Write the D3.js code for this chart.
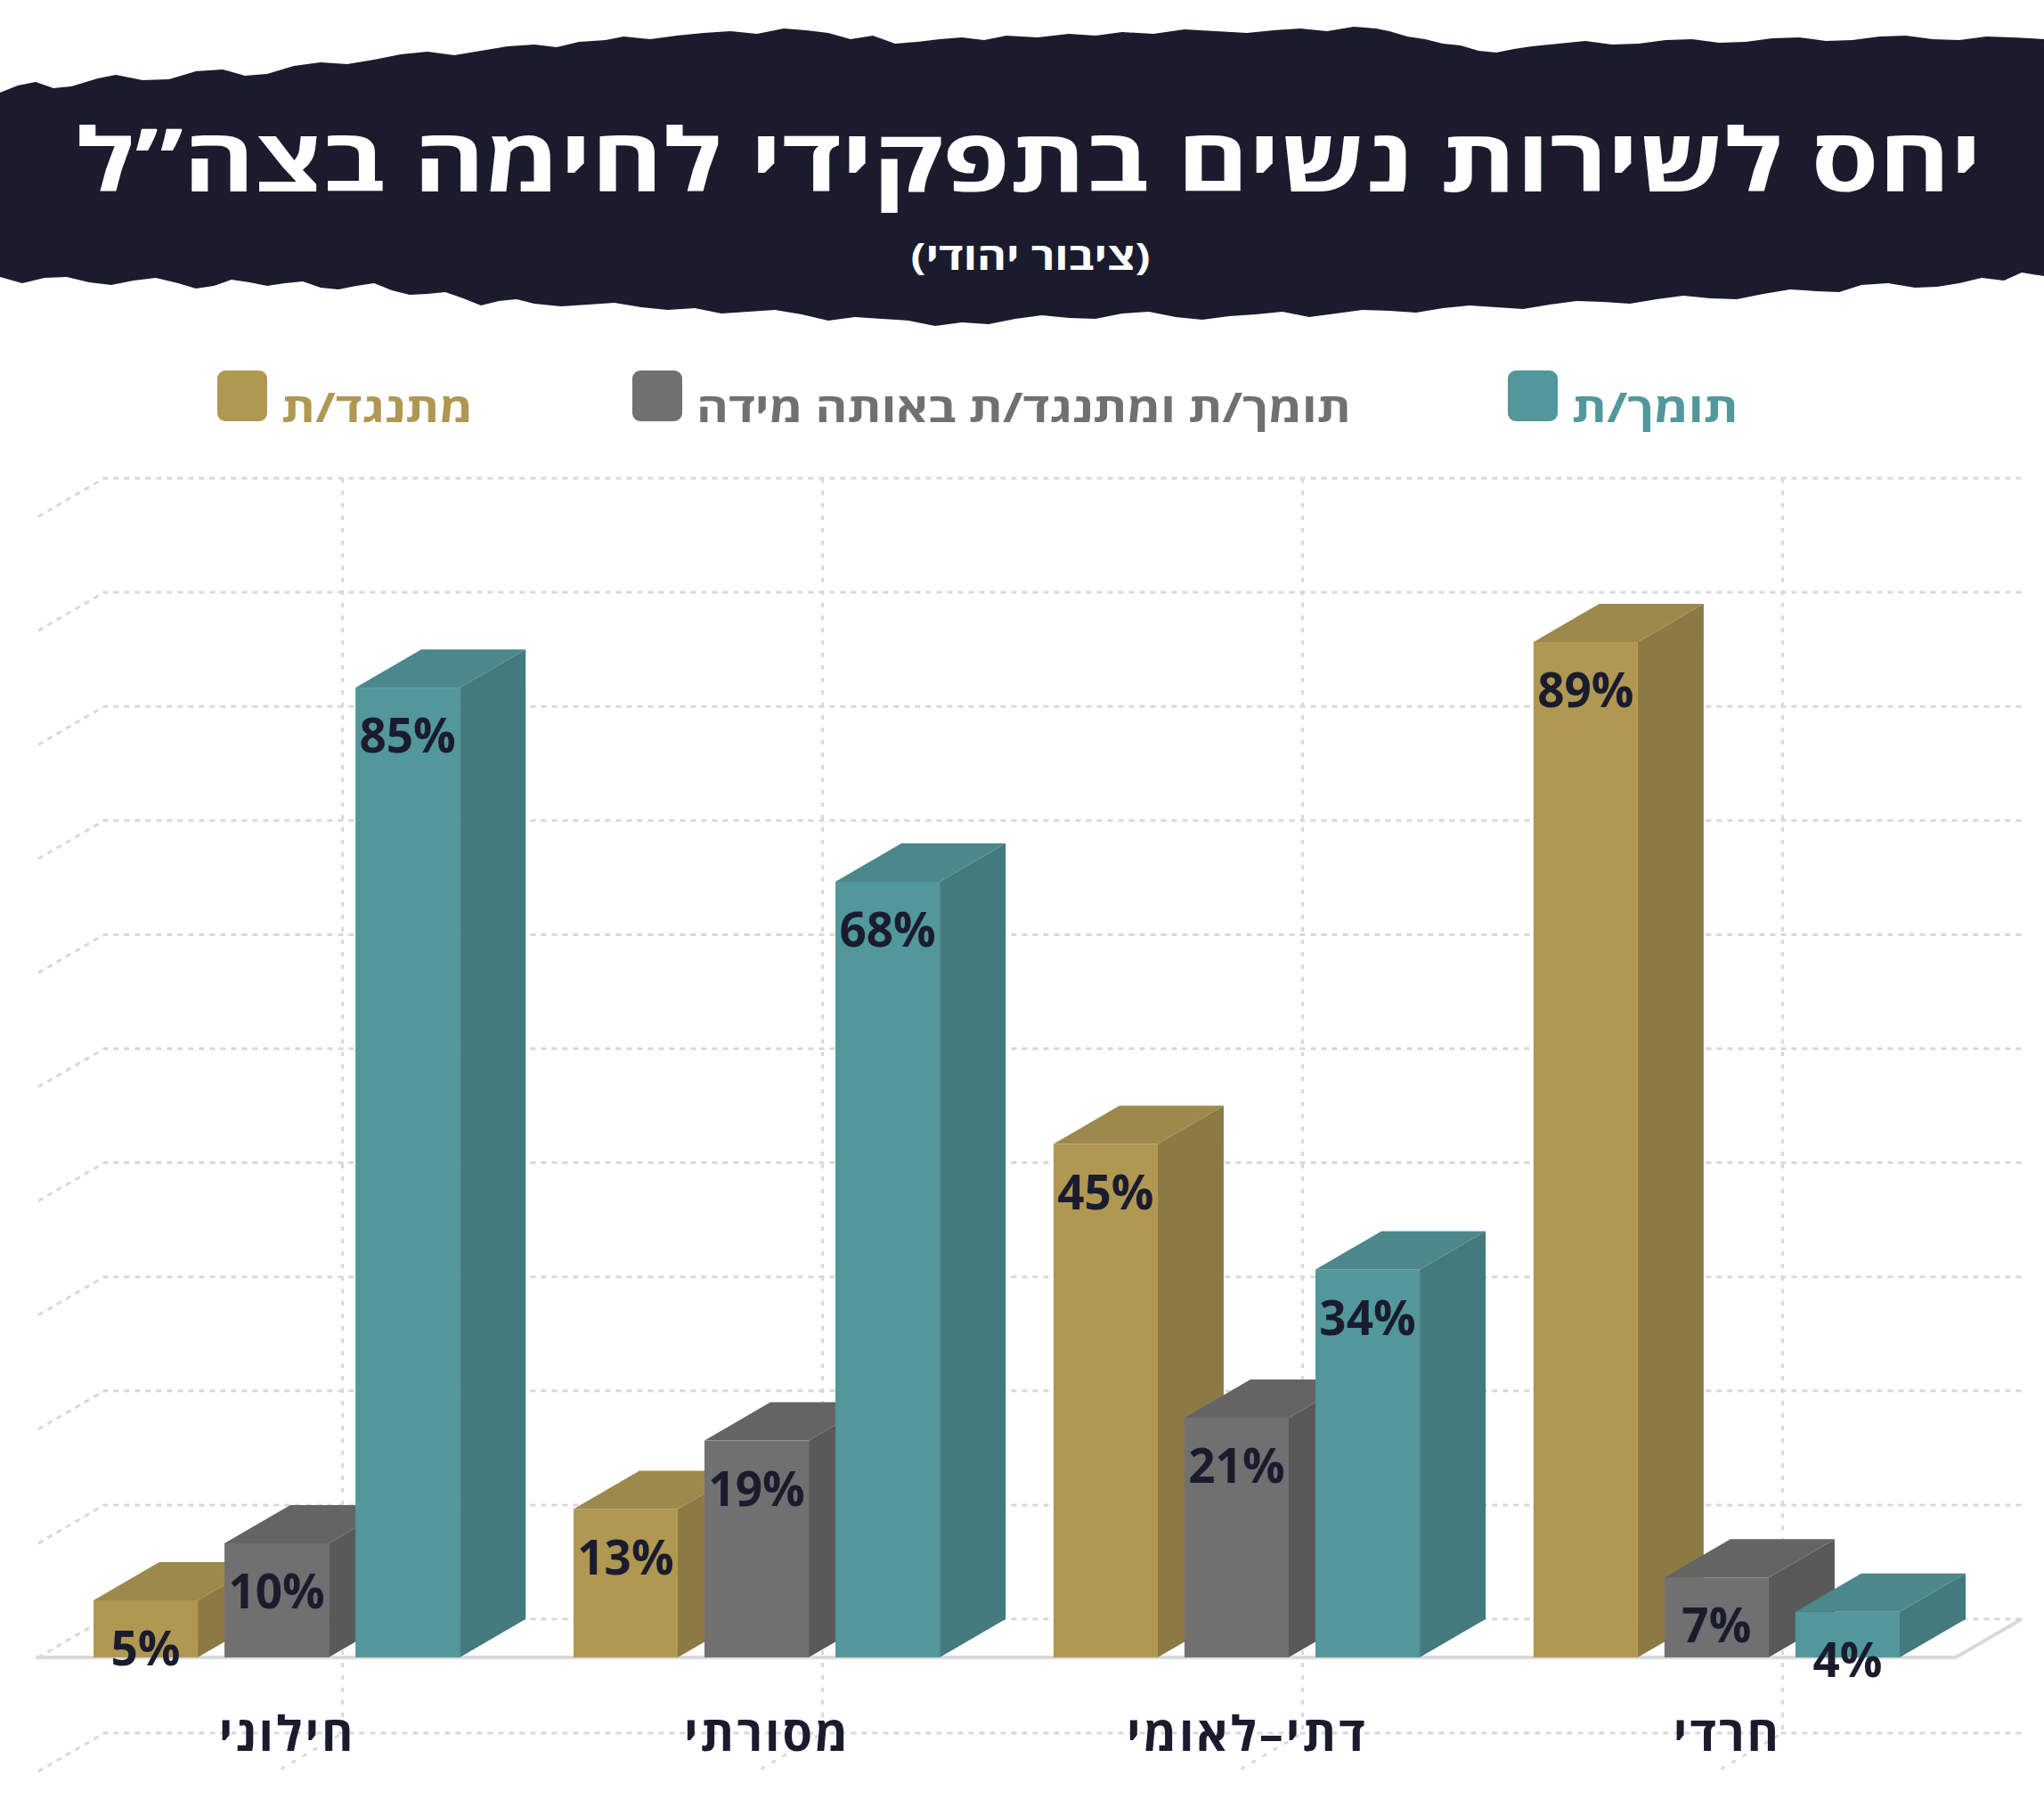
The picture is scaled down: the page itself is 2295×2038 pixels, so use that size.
<html><head>
<meta charset="utf-8">
<title>יחס לשירות נשים בתפקידי לחימה בצה"ל</title>
<style>
  body {
    margin: 0;
    background-color: #ffffff;
  }
  svg text {
    font-family: "Open Sans", "DejaVu Sans", sans-serif;
    font-weight: 700;
  }
  .grid {
    fill: none;
    stroke: #d9d9d9;
    stroke-width: 3px;
  }
</style>
<script src="https://d3js.org/d3.v7.min.js"></script>
</head>
<body>
<div id="chart"></div>
<script>
// data
const categories = ["חילוני", "מסורתי", "דתי–לאומי", "חרדי"];
const seriesNames = ["מתנגד/ת", "תומך/ת ומתנגד/ת באותה מידה", "תומך/ת"];
const opposeValues = [5, 13, 45, 89];
const equalValues = [10, 19, 21, 7];
const supportValues = [85, 68, 34, 4];
const gridTicks = [-10, 0, 10, 20, 30, 40, 50, 60, 70, 80, 90, 100];

const title = "יחס לשירות נשים בתפקידי לחימה בצה”ל";
const subtitle = "(ציבור יהודי)";

// front / top / side shades per series
const colors = [
  {front: "#b09853", top: "#9d894b", side: "#8c7a45"},
  {front: "#707070", top: "#646464", side: "#5a5959"},
  {front: "#52979c", top: "#4b878b", side: "#447a7d"}
];
const ink = "#1a1c2e";

const W = 2295, H = 2038;
const DX = 74, DY = 43; // depth of the 3d boxes

const svg = d3.select("#chart").append("svg")
  .attr("width", W)
  .attr("height", H);

// ---- brush stroke header ----
const brushTop = [[0,104],[20,96],[40,92],[60,99],[80,97],[110,88],[130,84],[160,90],[190,89],[220,80],[250,78],
  [275,85],[300,83],[330,74],[360,70],[390,72],[420,67],[450,61],[480,58],[510,62],[540,57],[570,52],
  [600,50],[625,53],[650,47],[680,45],[700,41],[730,44],[760,40],[790,37],[820,35],[850,38],[880,32],
  [905,34],[930,37],[955,44],[980,40],[1005,49],[1030,47],[1055,44],[1080,42],[1105,45],[1130,40],
  [1165,42],[1200,38],[1230,40],[1260,36],[1295,38],[1330,33],[1365,35],[1400,37],[1430,34],[1460,32],
  [1490,35],[1520,30],[1545,32],[1560,35],[1580,41],[1600,44],[1620,49],[1640,51],[1660,57],[1680,59],
  [1700,55],[1720,52],[1750,49],[1780,46],[1810,50],[1840,49],[1870,45],[1900,44],[1930,48],[1960,47],
  [1990,43],[2020,42],[2050,46],[2080,45],[2110,41],[2140,40],[2170,44],[2200,45],[2230,41],[2260,42],[2295,44]];
const brushBottom = [[2295,310],[2270,306],[2250,315],[2225,312],[2200,318],[2175,322],[2150,323],[2120,318],
  [2090,320],[2065,328],[2040,327],[2010,325],[1980,330],[1950,336],[1920,335],[1890,332],[1860,336],
  [1830,341],[1800,339],[1770,338],[1740,342],[1710,347],[1680,345],[1650,343],[1620,346],[1590,351],
  [1560,349],[1530,348],[1500,352],[1470,356],[1440,350],[1410,353],[1380,355],[1350,359],[1320,356],
  [1290,350],[1260,352],[1230,358],[1200,357],[1170,354],[1140,358],[1110,364],[1080,362],[1050,366],
  [1020,360],[990,358],[960,356],[930,360],[900,353],[870,348],[840,350],[810,352],[780,346],[750,348],
  [720,345],[690,340],[660,342],[630,344],[600,341],[580,336],[560,338],[540,343],[520,335],[500,328],
  [480,330],[460,331],[440,326],[420,318],[400,321],[380,325],[360,323],[340,316],[320,318],[300,321],
  [280,317],[260,314],[240,321],[220,324],[200,318],[175,312],[150,315],[125,320],[100,317],[75,311],
  [50,312],[25,318],[0,311]];

svg.append("path")
  .attr("d", d3.line()(brushTop.concat(brushBottom)) + "Z")
  .attr("fill", "#1a1c2e");

svg.append("text")
  .attr("x", 1155)
  .attr("y", 215)
  .attr("text-anchor", "middle")
  .attr("direction", "rtl")
  .attr("font-size", 98)
  .attr("textLength", 2140)
  .attr("lengthAdjust", "spacingAndGlyphs")
  .attr("fill", "#ffffff")
  .text(title);

svg.append("text")
  .attr("x", 1157)
  .attr("y", 303)
  .attr("text-anchor", "middle")
  .attr("direction", "rtl")
  .attr("font-size", 42)
  .attr("textLength", 269)
  .attr("lengthAdjust", "spacingAndGlyphs")
  .attr("fill", "#ffffff")
  .text(subtitle);

// ---- legend ----
const legendX = [244, 710, 1693];
const legendW = [215, 735, 187];
const legend = svg.append("g").selectAll("g")
  .data(seriesNames)
  .join("g")
  .attr("transform", (d, i) => `translate(${legendX[i]},416)`);

legend.append("rect")
  .attr("width", 56)
  .attr("height", 57)
  .attr("rx", 9)
  .attr("fill", (d, i) => colors[i].front);

legend.append("text")
  .attr("x", 72)
  .attr("y", 58)
  .attr("font-size", 46)
  .attr("textLength", (d, i) => legendW[i])
  .attr("lengthAdjust", "spacingAndGlyphs")
  .attr("fill", (d, i) => colors[i].front)
  .text(d => d);

// ---- scales ----
const x0 = d3.scaleBand()
  .domain(categories)
  .range([105, 2133])
  .paddingInner(0.237)
  .paddingOuter(0);

const x1 = d3.scaleBand()
  .domain(d3.range(seriesNames.length))
  .range([0, x0.bandwidth()])
  .paddingInner(0.204);

const y = d3.scaleLinear()
  .domain([0, 100])
  .range([1861, 580]);

const leftBack = 117, rightBack = 2270;
const floorRight = rightBack - DX;

// ---- grid (back wall + side wall) ----
const grid = svg.append("g");
grid.selectAll("path.h")
  .data(gridTicks)
  .join("path")
  .attr("class", "grid h")
  .attr("stroke-dasharray", "6,6")
  .attr("d", v => {
    const yb = y(v) - DY;
    return `M${leftBack - DX},${yb + DY}L${leftBack},${yb}L${v === 0 ? floorRight + DX : rightBack},${yb}`;
  });

grid.selectAll("path.v")
  .data(categories)
  .join("path")
  .attr("class", "grid v")
  .attr("stroke-dasharray", "5,9")
  .attr("d", c => {
    const xb = x0(c) + x1(1) + x1.bandwidth() / 2 + DX;
    return `M${xb},${y(100) - DY}L${xb},${y(-10) - DY}L${xb - DX},${y(-10)}`;
  });

// floor edge
svg.append("path")
  .attr("fill", "none")
  .attr("stroke", "#d9d9d9")
  .attr("stroke-width", 4)
  .attr("d", `M40,${y(0)}L${floorRight},${y(0)}L${floorRight + DX},${y(0) - DY}`);

// ---- 3d bars ----
const allSeries = [opposeValues, equalValues, supportValues];
const bars = [];
categories.forEach((c, ci) => {
  allSeries.forEach((vals, si) => {
    bars.push({cat: c, s: si, value: vals[ci]});
  });
});

const barW = x1.bandwidth();
const barG = svg.append("g").selectAll("g")
  .data(bars)
  .join("g");

barG.append("rect")
  .attr("x", d => x0(d.cat) + x1(d.s))
  .attr("y", d => y(d.value))
  .attr("width", barW)
  .attr("height", d => y(0) - y(d.value))
  .attr("fill", d => colors[d.s].front);

barG.append("path")
  .attr("fill", d => colors[d.s].side)
  .attr("d", d => {
    const xr = x0(d.cat) + x1(d.s) + barW, yt = y(d.value), yb = y(0);
    return `M${xr},${yt}L${xr + DX},${yt - DY}L${xr + DX},${yb - DY}L${xr},${yb}Z`;
  });

barG.append("path")
  .attr("fill", d => colors[d.s].top)
  .attr("d", d => {
    const xl = x0(d.cat) + x1(d.s), yt = y(d.value);
    return `M${xl},${yt}L${xl + DX},${yt - DY}L${xl + barW + DX},${yt - DY}L${xl + barW},${yt}Z`;
  });

// value labels on top of everything
svg.append("g").selectAll("text")
  .data(bars)
  .join("text")
  .attr("x", d => x0(d.cat) + x1(d.s) + barW / 2)
  .attr("y", d => y(d.value) + 54)
  .attr("dy", "0.36em")
  .attr("text-anchor", "middle")
  .attr("font-size", 53)
  .attr("font-weight", 800)
  .attr("fill", ink)
  .text(d => d.value + "%");

// ---- category labels ----
svg.append("g").selectAll("text")
  .data(categories)
  .join("text")
  .attr("x", c => x0(c) + x1(1) + barW / 2 + 12)
  .attr("y", 1966)
  .attr("text-anchor", "middle")
  .attr("direction", "rtl")
  .attr("font-size", 54)
  .attr("font-weight", 800)
  .attr("letter-spacing", 3)
  .attr("fill", ink)
  .text(c => c);
</script>
</body></html>
